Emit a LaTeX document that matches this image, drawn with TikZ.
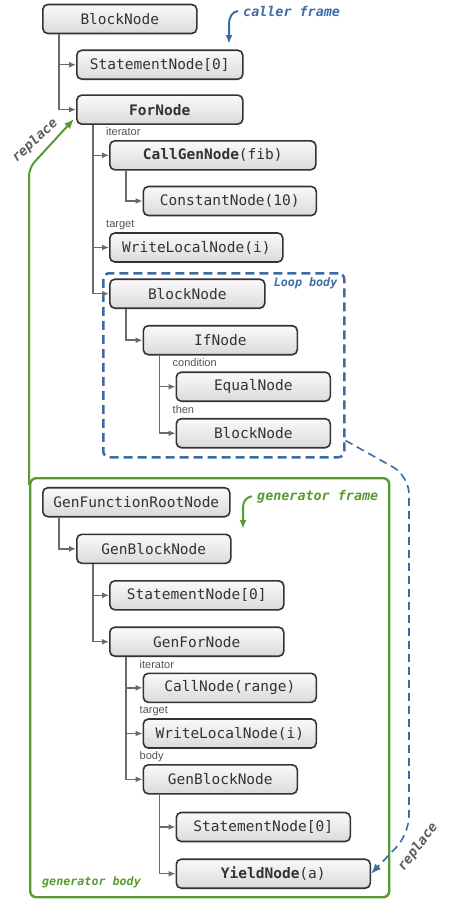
\documentclass[tikz,border=0pt]{standalone}
\usepackage{fontspec}
\setmonofont{DejaVu Sans Mono}[ItalicFont={DejaVu Sans Mono Oblique},BoldItalicFont={DejaVu Sans Mono Bold Oblique}]
\setsansfont{Liberation Sans}
\usepackage{tikz}
\usetikzlibrary{arrows.meta,positioning}
\definecolor{ink}{HTML}{333333}
\definecolor{shade}{HTML}{DADADA}
\definecolor{wiregray}{HTML}{6A6A6A}
\definecolor{callerblue}{HTML}{3D6CA4}
\definecolor{gengreen}{HTML}{5A9A32}
\definecolor{note}{HTML}{5C5C5C}
\tikzset{
  tnode/.style={draw=ink,line width=1.6pt,rounded corners=5pt,top color=white!98!black,bottom color=shade,minimum height=29pt,inner xsep=0pt,anchor=west,text=ink,font=\ttfamily\fontsize{14.5}{17}\selectfont},
  wire/.style={draw=wiregray,line width=1.5pt,-{Latex[length=7pt,width=6pt]}},
  role/.style={anchor=base west,inner sep=0pt,text=ink!85,font=\sffamily\fontsize{11}{13}\selectfont},
  tag/.style={inner sep=0pt,font=\ttfamily\bfseries\itshape\fontsize{13.4}{15}\selectfont},
  smalltag/.style={tag,font=\ttfamily\bfseries\itshape\fontsize{11.7}{14}\selectfont},
  bigtip/.style={-{Latex[length=10pt,width=8pt]}}
}
\begin{document}
\begin{tikzpicture}[x=1pt,y=-1pt]
  \useasboundingbox (0,0) rectangle (455,900);
  \node[tnode,minimum width=154pt] (cblock) at (42,19) {BlockNode};
  \node[tnode,minimum width=166pt] (cstmt) at (76,64.7) {StatementNode[0]};
  \node[tnode,minimum width=166pt] (cfor) at (76,109.6) {\textbf{ForNode}};
  \node[tnode,minimum width=206pt] (ccall) at (109,155.3) {\textbf{CallGenNode}(fib)};
  \node[tnode,minimum width=173pt] (cconst) at (142.5,201) {ConstantNode(10)};
  \node[tnode,minimum width=173pt] (cwrite) at (109,247.5) {WriteLocalNode(i)};
  \node[tnode,minimum width=155pt] (lblock) at (109,293.7) {BlockNode};
  \node[tnode,minimum width=154pt] (lif) at (142.5,340.2) {IfNode};
  \node[tnode,minimum width=154pt] (leq) at (175.5,386.7) {EqualNode};
  \node[tnode,minimum width=154pt] (lthen) at (175.5,433.2) {BlockNode};
  \node[draw=callerblue,line width=2.5pt,dash pattern=on 9pt off 5pt,rounded corners=6pt,minimum width=241pt,minimum height=184pt,inner sep=0pt,anchor=north west] (loopbody) at (102,272) {};
  \node[smalltag,text=callerblue,anchor=base east] (looptag) at ([shift={(-8pt,-14pt)}]loopbody.north east) {Loop body};

  \node[draw=gengreen,line width=2.4pt,rounded corners=6pt,minimum width=359pt,minimum height=419pt,inner sep=0pt,anchor=north west] (genbody) at (29,477) {};
  \node[smalltag,text=gengreen,anchor=base west] (gentagb) at ([shift={(13pt,13pt)}]genbody.south west) {generator body};
  \node[tnode,minimum width=187pt] (groot) at (42,502.2) {GenFunctionRootNode};
  \node[tnode,minimum width=154pt] (gblock) at (76,548.8) {GenBlockNode};
  \node[tnode,minimum width=174pt] (gstmt) at (109,595.3) {StatementNode[0]};
  \node[tnode,minimum width=174pt] (gfor) at (109,641.7) {GenForNode};
  \node[tnode,minimum width=173pt] (gcall) at (142.5,687.8) {CallNode(range)};
  \node[tnode,minimum width=173pt] (gwrite) at (142.5,733.5) {WriteLocalNode(i)};
  \node[tnode,minimum width=154pt] (gbody) at (142.5,779.3) {GenBlockNode};
  \node[tnode,minimum width=174pt] (gstmt2) at (175.5,827) {StatementNode[0]};
  \node[tnode,minimum width=194pt] (gyield) at (175.5,873.7) {\textbf{YieldNode}(a)};

  \foreach \p/\c in {cblock/cstmt,cblock/cfor,cfor/ccall,cfor/cwrite,cfor/lblock,ccall/cconst,lblock/lif,lif/leq,lif/lthen,groot/gblock,gblock/gstmt,gblock/gfor,gfor/gcall,gfor/gwrite,gfor/gbody,gbody/gstmt2,gbody/gyield} { \draw[wire] ([xshift=17pt]\p.south west) |- (\c.west); }
  \foreach \c/\r in {ccall/iterator,cwrite/target,leq/condition,lthen/then,gcall/iterator,gwrite/target,gbody/body} { \node[role] (\c-role) at ([shift={(-3pt,4.5pt)}]\c.north west) {\r}; }

  \node[tag,text=callerblue,anchor=base west] (callertag) at (243,16) {caller frame};
  \coordinate (callertip) at (229,44);
  \draw[callerblue,line width=2pt,-{Latex[length=9pt,width=7pt]}] ([xshift=-5pt]callertag.west) to[out=185,in=90] (229,24) -- (callertip);
  \node[tag,text=gengreen,anchor=base west] (gentag) at (257,500) {generator frame};
  \coordinate (gentip) at (243,529);
  \draw[gengreen,line width=2pt,-{Latex[length=9pt,width=7pt]}] ([xshift=-5pt]gentag.west) to[out=185,in=90] (243,507) -- (gentip);

  \draw[gengreen,line width=2pt,rounded corners=8pt,bigtip] ([yshift=-8pt]genbody.north west) -- (29,168) -- ([shift={(-2pt,6pt)}]cfor.south west);
  \node[tag,text=note,rotate=43] (replacetop) at (35,141) {replace};
  \draw[callerblue,line width=1.6pt,dash pattern=on 8pt off 5pt,rounded corners=18pt,bigtip] ([yshift=18pt]loopbody.south east) -- (409,476) -- (409,834) -- (gyield.east);
  \node[tag,text=note,rotate=53] (replacebot) at (418,847) {replace};
\end{tikzpicture}
\end{document}
